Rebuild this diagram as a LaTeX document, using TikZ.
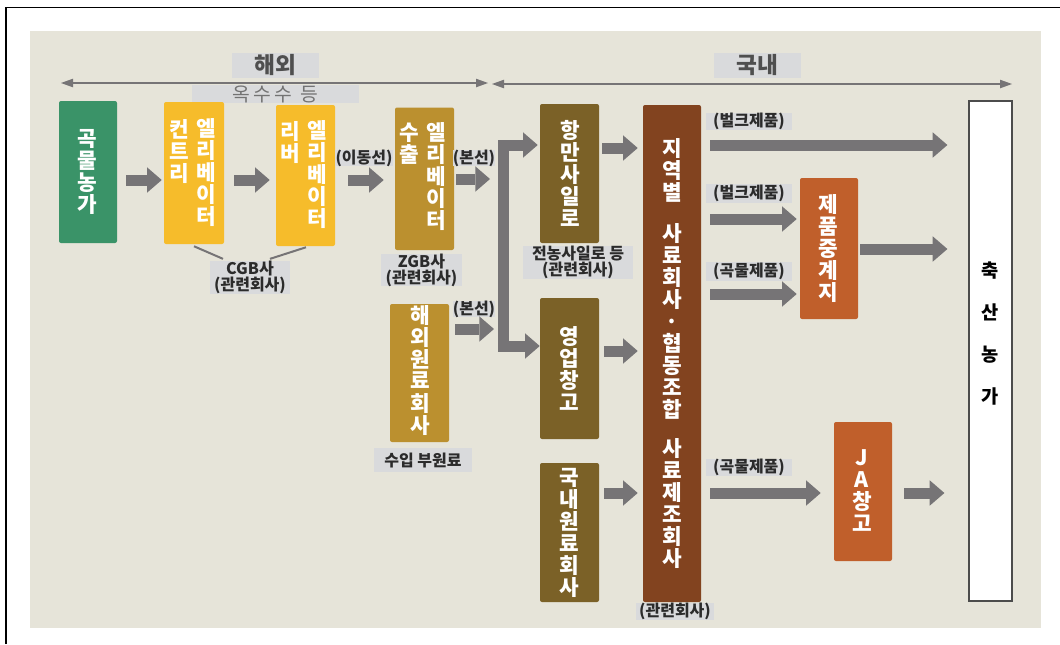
\documentclass[tikz,border=0pt]{standalone}
\usepackage{fontspec}
\setmainfont{Noto Sans CJK KR}
\usetikzlibrary{arrows.meta,calc}
\definecolor{bg}{HTML}{E6E4D9}
\definecolor{lab}{HTML}{D9DADC}
\definecolor{arr}{HTML}{767476}
\definecolor{cgreen}{HTML}{3A9368}
\definecolor{cyellow}{HTML}{F6BC2B}
\definecolor{cgold}{HTML}{BB902F}
\definecolor{colive}{HTML}{7B6127}
\definecolor{cbrown}{HTML}{82431F}
\definecolor{corange}{HTML}{C05F2B}
\definecolor{ltxt}{HTML}{2B2B2B}
\definecolor{stxt}{HTML}{4F4F4F}
\begin{document}
\begin{tikzpicture}[x=0.75pt,y=-0.75pt,
  sz/.style 2 args={minimum width=#1*0.75pt,minimum height=#2*0.75pt},
  box/.style={inner sep=0pt, rounded corners=1.5pt},
  vtext/.style={text=white, font=\bfseries\fontsize{16}{16.5}\selectfont, align=center, inner sep=0pt},
  lbl/.style={fill=lab, inner sep=0pt, text=ltxt, font=\bfseries\fontsize{12}{12}\selectfont, align=center},
  seclbl/.style={fill=lab, inner sep=0pt, text=stxt, font=\bfseries\fontsize{17}{18}\selectfont},
  barrow/.style={draw=arr, line width=8.25pt, -{Triangle[length=11pt,width=19pt,line width=0pt]}},
  thinarr/.style={draw=arr, line width=1.6pt, {Triangle[length=9pt,width=6.5pt,line width=0pt]}-{Triangle[length=9pt,width=6.5pt,line width=0pt]}},
  thinline/.style={draw=arr, line width=1.5pt}]
\useasboundingbox (0,0) rectangle (1060,644);
\fill[white] (0,0) rectangle (1060,644);
\draw[black, line width=1.2pt] (6,644) -- (6,7.5) -- (1060,7.5);
\fill[bg] (30,31) rectangle (1041,628);

% section headers
\node[seclbl, sz={87}{25}] (ovs) at (275.5,65.5) {해외};
\node[seclbl, sz={87}{25}] (dmst) at (757.5,65.5) {국내};
\coordinate (a1) at (61,83); \coordinate (a2) at (488,83);
\coordinate (a3) at (492,84); \coordinate (a4) at (1012,84);
\draw[thinarr] (a1) -- (a2);
\draw[thinarr] (a3) -- (a4);
\node[fill=lab, sz={167}{18}, inner sep=0pt, text=black!55, font=\fontsize{14.5}{15}\selectfont] (corn) at (275.5,94) {옥\,수\,수\, 등};

% boxes overseas
\node[box, fill=cgreen, sz={58}{142}] (farm) at (88,172) {};
\node[vtext] (farmT) at (87,172) {곡\\물\\농\\가};
\node[box, fill=cyellow, sz={60}{142}] (ce) at (194,173) {};
\node[vtext] (ceA) at (179,152) {컨\\트\\리};
\node[vtext] (ceB) at (206,172.5) {엘\\리\\베\\이\\터};
\node[box, fill=cyellow, sz={59}{141}] (rb) at (305.5,175.5) {};
\node[vtext] (rbA) at (290,142.5) {리\\버};
\node[vtext] (rbB) at (317,175) {엘\\리\\베\\이\\터};
\node[box, fill=cgold, sz={59}{142.5}] (ex) at (424.5,178.75) {};
\node[vtext] (exA) at (409,143.5) {수\\출};
\node[vtext] (exB) at (436,177) {엘\\리\\베\\이\\터};
\node[box, fill=cgold, sz={59}{138}] (ho) at (419.5,373) {};
\node[vtext] (hoT) at (420,370) {해\\외\\원\\료\\회\\사};

% labels overseas
\node[lbl, sz={80}{31}] (cgb) at (250,277.5) {CGB사\\(관련회사)};
\node[lbl, sz={81}{32}] (zgb) at (421.5,270) {ZGB사\\(관련회사)};
\node[lbl, sz={98}{24}] (imp) at (423,460) {수입 부원료};
\node[lbl, sz={58}{16}] (mv) at (364,158) {(이동선)};
\node[lbl, sz={42}{16}] (bs1) at (474,158) {(본선)};
\node[lbl, sz={42}{14}] (bs2) at (474,309) {(본선)};
\draw[thinline] ($(ce.south)+(0,2)$) -- ($(cgb.north)+(-27,-2)$);
\draw[thinline] ($(rb.south)+(0.5,1)$) -- ($(cgb.north)+(20,-2)$);

% domestic boxes
\node[box, fill=colive, sz={59}{139}] (port) at (569.5,173.5) {};
\node[vtext] (portT) at (570,173.5) {항\\만\\사\\일\\로};
\node[box, fill=colive, sz={59}{141}] (sales) at (569.5,368.5) {};
\node[vtext] (salesT) at (569,368) {영\\업\\창\\고};
\node[box, fill=colive, sz={59}{139}] (dom) at (569.5,532.5) {};
\node[vtext] (domT) at (569,532.5) {국\\내\\원\\료\\회\\사};
\node[lbl, sz={110}{29}] (jn) at (578,262.5) {전농사일로 등\\(관련회사)};

\node[box, fill=cbrown, sz={58}{497}] (reg) at (672,353.5) {};
\node[vtext] (regA) at (672,170) {지\\역\\별};
\node[vtext] (regB) at (672,321) {사\\료\\회\\사\\·\\협\\동\\조\\합};
\node[vtext] (regC) at (672,504) {사\\료\\제\\조\\회\\사};
\node[lbl, sz={78}{17}] (regL) at (675,611) {(관련회사)};

\node[box, fill=corange, sz={58}{141}] (relay) at (829,248.5) {};
\node[vtext] (relayT) at (828,248.5) {제\\품\\중\\계\\지};
\node[box, fill=corange, sz={58}{139}] (ja) at (863,491.5) {};
\node[vtext] (jaT) at (862,490.5) {J\\A\\창\\고};
\node[draw=black!70, fill=white, line width=0.9pt, inner sep=0pt, sz={43}{500}] (live) at (990.5,351) {};
\node[inner sep=0pt, align=center, text=black, font=\bfseries\fontsize{14}{31.5}\selectfont] (liveT) at (990.5,334) {축\\산\\농\\가};

\node[lbl, sz={86}{17}] (bk1) at (749,121.5) {(벌크제품)};
\node[lbl, sz={86}{19}] (bk2) at (749,193.5) {(벌크제품)};
\node[lbl, sz={86}{19}] (gr1) at (749,271.5) {(곡물제품)};
\node[lbl, sz={86}{17}] (gr2) at (749,467.5) {(곡물제품)};

% level coordinates
\coordinate (y180) at (0,180);
\coordinate (y179) at (0,179);
\coordinate (y329) at (0,329);
\coordinate (y148) at (0,148);
\coordinate (y351) at (0,351);
\coordinate (y493) at (0,493);
\coordinate (y145) at (0,145);
\coordinate (y219) at (0,219);
\coordinate (y294) at (0,294);
\coordinate (y249) at (0,249);

% bus
\coordinate (busT) at (503,145);
\coordinate (busB) at (503,346);
\draw[barrow, {Triangle[length=11pt,width=19pt,line width=0pt]}-{Triangle[length=11pt,width=19pt,line width=0pt]}, line join=miter]
  ($(port.west|-busT)+(-2,0)$) -- (busT) -- (busB) -- ($(sales.west|-busB)+(0,0)$);

% arrows
\draw[barrow] ($(farm.east|-y180)+(9,0)$) -- ($(ce.west|-y180)+(-2,0)$);
\draw[barrow] ($(ce.east|-y180)+(10,0)$) -- ($(rb.west|-y180)+(-6,0)$);
\draw[barrow] ($(rb.east|-y180)+(13,0)$) -- ($(ex.west|-y180)+(-11,0)$);
\draw[barrow] ($(ex.east|-y179)+(2,0)$) -- ($(busT|-y179)+(-13,0)$);
\draw[barrow] ($(ho.east|-y329)+(6,0)$) -- ($(busT|-y329)+(-9,0)$);
\draw[barrow] ($(port.east|-y148)+(3,0)$) -- ($(reg.west|-y148)+(-5,0)$);
\draw[barrow] ($(sales.east|-y351)+(5,0)$) -- ($(reg.west|-y351)+(-5,0)$);
\draw[barrow] ($(dom.east|-y493)+(5,0)$) -- ($(reg.west|-y493)+(-5,0)$);
\draw[barrow] ($(reg.east|-y145)+(9,0)$) -- ($(live.west|-y145)+(-21,0)$);
\draw[barrow] ($(reg.east|-y219)+(9,0)$) -- ($(relay.west|-y219)+(-3,0)$);
\draw[barrow] ($(reg.east|-y294)+(9,0)$) -- ($(relay.west|-y294)+(-3,0)$);
\draw[barrow] ($(relay.east|-y249)+(2,0)$) -- ($(live.west|-y249)+(-21,0)$);
\draw[barrow] ($(reg.east|-y493)+(9,0)$) -- ($(ja.west|-y493)+(-13,0)$);
\draw[barrow] ($(ja.east|-y493)+(12,0)$) -- ($(live.west|-y493)+(-24,0)$);
\end{tikzpicture}
\end{document}
